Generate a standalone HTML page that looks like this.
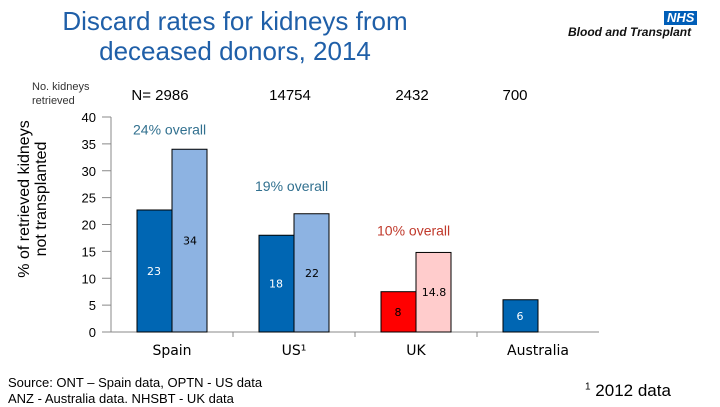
<!DOCTYPE html>
<html><head><meta charset="utf-8"><style>
body{margin:0;width:720px;height:405px;background:#fff;overflow:hidden;font-family:"Liberation Sans",sans-serif;position:relative}
.a{position:absolute;white-space:nowrap}
</style></head><body>
<div class="a" style="left:60px;top:6px;width:350px;text-align:center;font-size:26px;line-height:30px;color:#1f5fa8;white-space:normal">Discard rates for kidneys from deceased donors, 2014</div>
<div class="a" style="left:664px;top:11px;background:#005eb8;color:#fff;font-weight:bold;font-style:italic;font-size:13px;padding:0 3px;line-height:14px">NHS</div>
<div class="a" style="left:568px;top:25px;font-weight:bold;font-style:italic;font-size:12px;color:#111">Blood and Transplant</div>
<div class="a" style="left:32px;top:80px;font-size:11px;line-height:14px;color:#333">No. kidneys<br>retrieved</div>
<div class="a" style="left:-82px;top:182px;width:230px;text-align:center;transform:rotate(-90deg);font-size:16px;line-height:17px;color:#000">% of retrieved kidneys<br>not transplanted</div>
<div class="a" style="left:8px;top:375px;font-size:13px;line-height:16px">Source: ONT – Spain data, OPTN - US data<br>ANZ - Australia data. NHSBT - UK data</div>
<div class="a" style="left:585px;top:381px;font-size:17px"><sup style="font-size:10px">1</sup> 2012 data</div>
<svg id="c" width="720" height="405" style="position:absolute;left:0;top:0"></svg>
<script>
const categories=["Spain","US¹","UK","Australia"];
const counts=["N=  2986","14754","2432","700"];
const darkValues=[22.7,18,7.5,6];
const lightValues=[34,22,14.8,null];
const darkLabels=["23","18","8","6"];
const lightLabels=["34","22","14.8",""];
const overall=["24% overall","19% overall","10% overall",""];
const overallY=[36.7,26.2,18,0];
const yTicks=[0,5,10,15,20,25,30,35,40];
const NS="http://www.w3.org/2000/svg",svg=document.getElementById("c");
const x0=111,cw=122,y0=332,ppu=5.375;
const y=v=>y0-v*ppu;
function el(t,a,txt){const e=document.createElementNS(NS,t);for(const k in a)e.setAttribute(k,a[k]);if(txt!=null)e.textContent=txt;svg.appendChild(e);return e;}
yTicks.forEach(v=>{const t=el("text",{x:96,y:y(v)+5,"text-anchor":"end","font-size":13,fill:"#000"},v);

const l=el("line",{x1:102,x2:111,y1:y(v),y2:y(v),stroke:"#888"});});
const ax=el("line",{x1:x0,x2:x0,y1:y(40),y2:y0,stroke:"#888"});
const bx=el("line",{x1:x0-2,x2:x0+4*cw,y1:y0,y2:y0,stroke:"#888"});
const dCol=["#0066b3","#0066b3","#ff0000","#0066b3"],lCol=["#8db3e2","#8db3e2","#ffcccc","#8db3e2"];
categories.forEach((c,i)=>{
 const gx=x0+i*cw;
 if(i>0){const t=el("line",{x1:gx,x2:gx,y1:y0,y2:y0+5,stroke:"#888"});}
 const bl=el("text",{x:gx+61,y:y0+23,"text-anchor":"middle","font-size":14,"font-family":"DejaVu Sans, sans-serif",fill:"#000"},c);
 
 const n=el("text",{x:[160,290,412,515][i],y:100,"text-anchor":"middle","font-size":15,fill:"#000"},counts[i]);
 
 const d=darkValues[i];
 const r=el("rect",{x:gx+26,y:y(d),width:35,height:d*ppu,fill:dCol[i],stroke:"#000","stroke-width":1});
 
 const dt=el("text",{x:gx+43,y:y(d/2)+4,"text-anchor":"middle","font-size":11,"font-family":"DejaVu Sans, sans-serif",fill:i==2?"#000":"#fff"},darkLabels[i]);
 
 const lv=lightValues[i];
 if(lv!=null){const r2=el("rect",{x:gx+61,y:y(lv),width:35,height:lv*ppu,fill:lCol[i],stroke:"#000","stroke-width":1});
 
 const lt=el("text",{x:gx+79,y:y(lv/2)+4,"text-anchor":"middle","font-size":11,"font-family":"DejaVu Sans, sans-serif",fill:"#000"},lightLabels[i]);
 }
 if(overall[i]){const o=el("text",{x:gx+22,y:y(overallY[i]),"font-size":14,fill:i==2?"#c0392b":"#31708f"},overall[i]);
 }
});
</script>
</body></html>
